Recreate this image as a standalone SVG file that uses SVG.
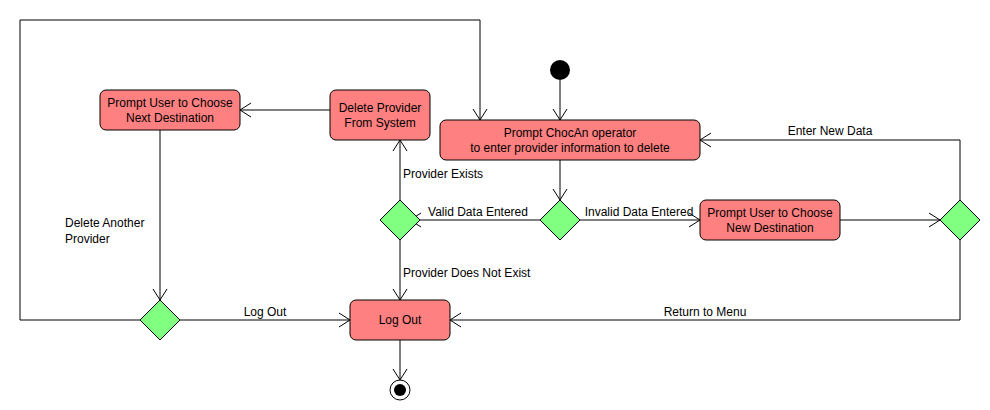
<svg xmlns="http://www.w3.org/2000/svg" width="990" height="410" viewBox="0 0 990 410">
<style>
text{font-family:"Liberation Sans",Arial,sans-serif;font-size:12px;fill:#000}
.a{fill:#FF8080;stroke:#000;stroke-width:1}
.d{fill:#80FF80;stroke:#000;stroke-width:1}
.c{fill:none;stroke:#000;stroke-width:1;marker-end:url(#open)}
.m{text-anchor:middle}
</style>
<defs>
<marker id="open" viewBox="-12 -8 14 16" refX="0" refY="0" markerWidth="14" markerHeight="16" markerUnits="userSpaceOnUse" orient="auto">
<path d="M-11,-7 L0,0 L-11,7" fill="none" stroke="#000" stroke-width="1"/>
</marker>
</defs>
<rect width="990" height="410" fill="#fff"/>
<g id="connectors">
<path class="c" d="M560,80 L560,120"/>
<path class="c" d="M560,160 L560,200"/>
<path class="c" d="M540,220 L410,220"/>
<path class="c" d="M580,220 L700,220"/>
<path class="c" d="M840,220 L940,220"/>
<path class="c" d="M960,200 L960,140 L700,140"/>
<path class="c" d="M960,240 L960,320 L450,320"/>
<path class="c" d="M400,200 L400,140"/>
<path class="c" d="M400,240 L400,300"/>
<path class="c" d="M330,110 L240,110"/>
<path class="c" d="M160,130 L160,300"/>
<path class="c" d="M180,320 L350,320"/>
<path class="c" d="M140,320 L20,320 L20,20 L480,20 L480,120"/>
<path class="c" d="M400,340 L400,380"/>
<text x="478" y="216" class="m">Valid Data Entered</text>
<text x="639" y="216" class="m">Invalid Data Entered</text>
<text x="830" y="135" class="m">Enter New Data</text>
<text x="705" y="316" class="m">Return to Menu</text>
<text x="403" y="178">Provider Exists</text>
<text x="403" y="277">Provider Does Not Exist</text>
<text x="65" y="227">Delete Another</text>
<text x="65" y="243">Provider</text>
<text x="265" y="316" class="m">Log Out</text>
</g>
<g id="start"><circle cx="560" cy="70" r="10" fill="#000"/></g>
<g id="promptChocAn">
<rect class="a" x="440" y="120" width="260" height="40" rx="6"/>
<text x="570" y="137" class="m">Prompt ChocAn operator</text>
<text x="570" y="152" class="m">to enter provider information to delete</text>
</g>
<g id="dataCheck"><polygon class="d" points="560,200 580,220 560,240 540,220"/></g>
<g id="providerCheck"><polygon class="d" points="400,200 420,220 400,240 380,220"/></g>
<g id="newDataCheck"><polygon class="d" points="960,200 980,220 960,240 940,220"/></g>
<g id="anotherCheck"><polygon class="d" points="160,300 180,320 160,340 140,320"/></g>
<g id="promptNewDest">
<rect class="a" x="700" y="200" width="140" height="40" rx="6"/>
<text x="770" y="217" class="m">Prompt User to Choose</text>
<text x="770" y="232" class="m">New Destination</text>
</g>
<g id="deleteProvider">
<rect class="a" x="330" y="90" width="100" height="50" rx="6"/>
<text x="380" y="112" class="m">Delete Provider</text>
<text x="380" y="127" class="m">From System</text>
</g>
<g id="promptNextDest">
<rect class="a" x="100" y="90" width="140" height="40" rx="6"/>
<text x="170" y="107" class="m">Prompt User to Choose</text>
<text x="170" y="122" class="m">Next Destination</text>
</g>
<g id="logOut">
<rect class="a" x="350" y="300" width="100" height="40" rx="6"/>
<text x="400" y="324" class="m">Log Out</text>
</g>
<g id="end">
<circle cx="400" cy="390" r="10" fill="#fff" stroke="#000"/>
<circle cx="400" cy="390" r="6" fill="#000"/>
</g>
</svg>
